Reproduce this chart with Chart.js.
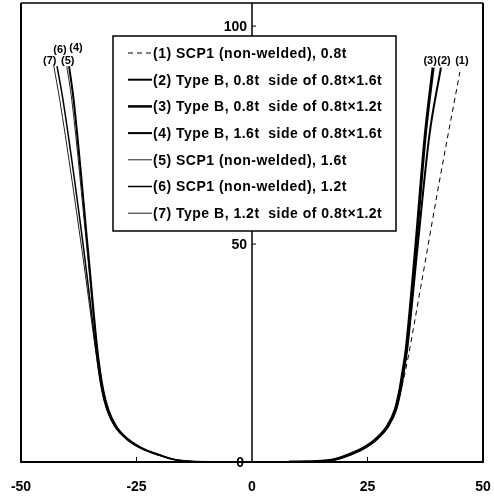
<!DOCTYPE html>
<html>
<head>
<meta charset="utf-8">
<script src="https://cdn.jsdelivr.net/npm/chart.js@4.4.0/dist/chart.umd.min.js"></script>
<style>
  html, body { margin: 0; padding: 0; background: #fff; }
  #wrap { width: 494px; height: 499px; }
</style>
</head>
<body>
<div id="wrap"><canvas id="c" width="494" height="499"></canvas></div>
<script>
const xTicks = [-50, -25, 0, 25, 50];
const yTicks = [0, 50, 100];

const seriesNames = [
  '(1) SCP1 (non-welded), 0.8t',
  '(2) Type B, 0.8t  side of 0.8t\u00d71.6t',
  '(3) Type B, 0.8t  side of 0.8t\u00d71.2t',
  '(4) Type B, 1.6t  side of 0.8t\u00d71.6t',
  '(5) SCP1 (non-welded), 1.6t',
  '(6) SCP1 (non-welded), 1.2t',
  '(7) Type B, 1.2t  side of 0.8t\u00d71.2t'
];
const tagNames = ['(1)', '(2)', '(3)', '(4)', '(5)', '(6)', '(7)'];

// right branch
const s1x = [8, 14, 18, 21, 24, 27, 29.5, 31.1, 32.1, 33.0, 36.5, 40.5, 45.0];
const s1y = [0, 0.1, 0.6, 1.6, 3.0, 5.2, 8.2, 12.0, 16.0, 19.8, 40, 64, 89.5];
const s2x = [8, 14, 18, 21, 24, 27, 29.5, 31.2, 32.2, 32.9, 33.6, 35.9, 38.4, 40.9];
const s2y = [0, 0.1, 0.6, 1.6, 3.0, 5.2, 8.2, 12.0, 16.5, 21.0, 26.0, 50, 75, 90.5];
const s3x = [8, 14, 18, 20.8, 23.8, 26.8, 29.3, 31.0, 32.0, 32.7, 33.4, 35.5, 37.5, 39.2];
const s3y = [0, 0.1, 0.6, 1.6, 3.0, 5.2, 8.2, 12.0, 16.5, 21.0, 26.0, 50, 75, 90.5];
// left branch
const s4x = [-8, -13, -17, -20, -23.5, -26.8, -29.4, -31.1, -32.2, -32.9, -33.5, -35.5, -38.6, -39.6];
const s4y = [0, 0.1, 0.6, 1.6, 3.0, 5.2, 8.2, 12.0, 16.5, 21.0, 26.0, 48.6, 83, 90.8];
const s5x = [-8, -13, -17, -20, -23.5, -26.8, -29.4, -31.1, -32.2, -32.9, -33.6, -35.7, -39.0, -40.1];
const s5y = [0, 0.1, 0.6, 1.6, 3.0, 5.2, 8.2, 12.0, 16.5, 21.0, 26.0, 48.6, 83, 90.8];
const s6x = [-8, -13, -17, -20.2, -23.8, -27.1, -29.7, -31.4, -32.5, -33.2, -33.8, -36.4, -40.9, -42.2];
const s6y = [0, 0.1, 0.6, 1.6, 3.0, 5.2, 8.2, 12.0, 16.5, 21.0, 26.0, 48.6, 83, 90.8];
const s7x = [-8, -13, -17, -20.2, -23.8, -27.1, -29.7, -31.4, -32.5, -33.2, -33.9, -36.8, -41.6, -42.9];
const s7y = [0, 0.1, 0.6, 1.6, 3.0, 5.2, 8.2, 12.0, 16.5, 21.0, 26.0, 48.6, 83, 90.8];

const allX = [s1x, s2x, s3x, s4x, s5x, s6x, s7x];
const allY = [s1y, s2y, s3y, s4y, s5y, s6y, s7y];

const lineStyles = [
  { w: 1, dash: [5, 4], color: '#000' },
  { w: 2, dash: [], color: '#000' },
  { w: 3, dash: [], color: '#000' },
  { w: 2, dash: [], color: '#000' },
  { w: 1, dash: [], color: '#222' },
  { w: 1.5, dash: [], color: '#000' },
  { w: 1, dash: [], color: '#222' }
];
// tag offsets from last point (px)
const tagOffsets = [[2, -11], [3, -7], [-3, -7], [7, -18], [1, -5], [3, -16], [-4, -5]];

const datasets = allX.map((xs, k) => ({
  label: seriesNames[k],
  data: xs.map((x, i) => ({ x: x, y: allY[k][i] })),
  showLine: true,
  pointRadius: 0,
  borderColor: lineStyles[k].color,
  borderWidth: lineStyles[k].w,
  borderDash: lineStyles[k].dash,
  cubicInterpolationMode: 'monotone',
  fill: false
}));

const NUM_FONT = 'bold 14px "Liberation Sans Narrow", "Liberation Sans", Arial, sans-serif';

const decor = {
  id: 'decor',
  afterDraw(chart) {
    const ctx = chart.ctx;
    const a = chart.chartArea;
    const xs = chart.scales.x, ys = chart.scales.y;
    ctx.save();
    // frame
    ctx.strokeStyle = '#000';
    ctx.lineWidth = 2;
    ctx.beginPath();
    ctx.moveTo(a.left, a.top);
    ctx.lineTo(a.left, a.bottom);
    ctx.lineTo(a.right, a.bottom);
    ctx.lineTo(a.right, a.top);
    ctx.stroke();
    ctx.lineWidth = 1.5;
    ctx.beginPath();
    ctx.moveTo(a.left, a.top);
    ctx.lineTo(a.right, a.top);
    ctx.stroke();

    // y axis at x = 0
    const x0 = xs.getPixelForValue(0);
    ctx.lineWidth = 1.5;
    ctx.beginPath();
    ctx.moveTo(x0, a.bottom);
    ctx.lineTo(x0, a.top);
    ctx.stroke();
    ctx.font = NUM_FONT;
    ctx.fillStyle = '#000';
    ctx.textAlign = 'right';
    ctx.textBaseline = 'middle';
    yTicks.forEach(v => {
      const py = ys.getPixelForValue(v);
      ctx.lineWidth = 1;
      ctx.beginPath();
      ctx.moveTo(x0, py);
      ctx.lineTo(x0 + 4, py);
      ctx.stroke();
      ctx.fillText(String(v), x0 - (v === 0 ? 8 : 5), py + 1);
    });

    // x ticks
    ctx.textAlign = 'center';
    xTicks.forEach(v => {
      const px = xs.getPixelForValue(v);
      if (v !== 0 && Math.abs(v) !== 50) {
        ctx.lineWidth = 1;
        ctx.beginPath();
        ctx.moveTo(px, a.bottom);
        ctx.lineTo(px, a.bottom - 5);
        ctx.stroke();
      }
      ctx.fillText(String(v), px, a.bottom + 25);
    });

    // tags near curve ends
    ctx.font = 'bold 11px "Liberation Sans Narrow", "Liberation Sans", Arial, sans-serif';
    chart.data.datasets.forEach((ds, k) => {
      const last = ds.data[ds.data.length - 1];
      const px = xs.getPixelForValue(last.x) + tagOffsets[k][0];
      const py = ys.getPixelForValue(last.y) + tagOffsets[k][1];
      ctx.fillText(tagNames[k], px, py);
    });

    // legend box
    const bx = 113, by = 36, bw = 283, bh = 195;
    ctx.fillStyle = '#fff';
    ctx.fillRect(bx, by, bw, bh);
    ctx.lineWidth = 1.5;
    ctx.strokeStyle = '#000';
    ctx.strokeRect(bx, by, bw, bh);
    ctx.font = 'bold 14px "Liberation Sans", Arial, sans-serif';
    ctx.textAlign = 'left';
    ctx.textBaseline = 'middle';
    ctx.fillStyle = '#000';
    ctx.letterSpacing = '0.5px';
    chart.data.datasets.forEach((ds, k) => {
      const ry = by + 17 + k * 26.7;
      ctx.lineWidth = Math.min(ds.borderWidth, 2.5);
      ctx.strokeStyle = ds.borderColor;
      ctx.setLineDash(ds.borderDash || []);
      ctx.beginPath();
      ctx.moveTo(bx + 15, ry);
      ctx.lineTo(bx + 39, ry);
      ctx.stroke();
      ctx.setLineDash([]);
      ctx.fillText(ds.label, bx + 40, ry + 1);
    });
    ctx.restore();
  }
};

new Chart(document.getElementById('c'), {
  type: 'scatter',
  data: { datasets: datasets },
  options: {
    responsive: false,
    animation: false,
    layout: { padding: { left: 21, right: 11, top: 3, bottom: 37 } },
    plugins: { legend: { display: false }, tooltip: { enabled: false } },
    scales: {
      x: { type: 'linear', min: -50, max: 50, display: false },
      y: { type: 'linear', min: 0, max: 105.3, display: false }
    }
  },
  plugins: [decor]
});
</script>
</body>
</html>
